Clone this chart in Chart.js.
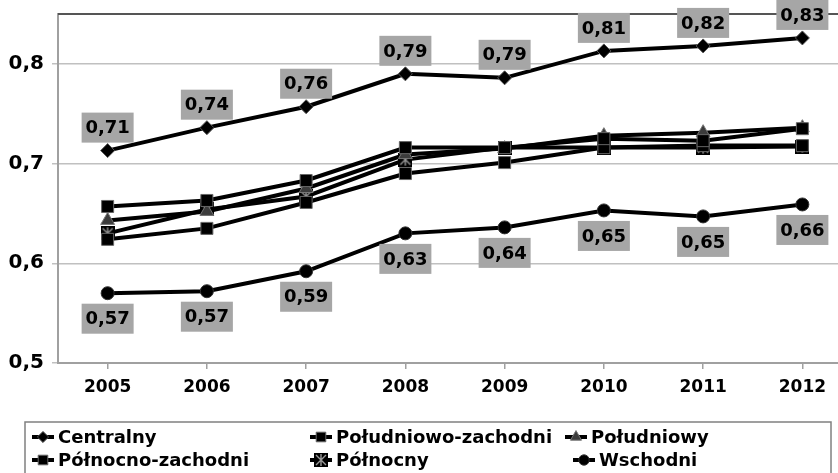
<!DOCTYPE html>
<html>
<head>
<meta charset="utf-8">
<script src="https://cdn.jsdelivr.net/npm/chart.js@4"></script>
<style>
html,body{margin:0;padding:0;background:#fff;overflow:hidden;width:838px;height:473px;}
#wrap{position:relative;width:870px;height:473px;}
</style>
</head>
<body>
<div id="wrap"><canvas id="c" width="870" height="473"></canvas></div>
<script>
const years = ['2005','2006','2007','2008','2009','2010','2011','2012'];
const seriesNames = ['Centralny','Południowo-zachodni','Południowy','Północno-zachodni','Północny','Wschodni'];
const centralny = [0.713,0.736,0.757,0.790,0.786,0.813,0.818,0.826];
const poludniowoZachodni = [0.657,0.663,0.683,0.716,0.716,0.725,0.723,0.735];
const poludniowy = [0.643,0.652,0.675,0.709,0.715,0.728,0.731,0.736];
const polnocnoZachodni = [0.624,0.635,0.661,0.690,0.701,0.716,0.718,0.718];
const polnocny = [0.630,0.654,0.667,0.704,0.716,0.716,0.716,0.717];
const wschodni = [0.570,0.572,0.592,0.630,0.636,0.653,0.647,0.659];
const yTicks = [0.5,0.6,0.7,0.8];

// asterisk marker (black square with grey star)
function makeStar(){
  const cv = document.createElement('canvas');
  cv.width = 14; cv.height = 14;
  const g = cv.getContext('2d');
  g.fillStyle = '#000'; g.fillRect(0,0,14,14);
  g.strokeStyle = '#9a9a9a'; g.lineWidth = 1.4;
  g.beginPath();
  g.moveTo(2,2); g.lineTo(12,12);
  g.moveTo(12,2); g.lineTo(2,12);
  g.moveTo(7,1); g.lineTo(7,13);
  g.stroke();
  return cv;
}
const starImg = makeStar();

const FONT = "'DejaVu Sans', 'Liberation Sans', Arial, sans-serif";

function ds(label, data, style, radius, fill, border){
  return {
    label, data,
    borderColor:'#000', borderWidth:4, tension:0,
    pointStyle: style, pointRadius: radius, pointHoverRadius: radius,
    pointBackgroundColor: fill, pointBorderColor: border, pointBorderWidth:1
  };
}

const datasets = [
  ds(seriesNames[0], centralny, 'rectRot', 7, '#000', '#555'),
  ds(seriesNames[1], poludniowoZachodni, 'rect', 8.5, '#000', '#666'),
  ds(seriesNames[2], poludniowy, 'triangle', 8, '#3c3c3c', '#777'),
  ds(seriesNames[3], polnocnoZachodni, 'rect', 8.5, '#000', '#666'),
  ds(seriesNames[4], polnocny, starImg, 7, '#000', '#666'),
  ds(seriesNames[5], wschodni, 'circle', 6.5, '#000', '#333')
];
datasets[0].labelPos = 'above';
datasets[5].labelPos = 'below';

const fmt = v => (Math.round(v*100)/100).toFixed(2).replace('.', ',');

const topBorder = {
  id:'topBorder',
  beforeDatasetsDraw(chart){
    const {ctx, chartArea:a} = chart;
    ctx.save();
    ctx.strokeStyle = '#555'; ctx.lineWidth = 2;
    ctx.beginPath(); ctx.moveTo(a.left, a.top); ctx.lineTo(a.right+20, a.top); ctx.stroke();
    ctx.restore();
  }
};

const dataLabels = {
  id:'dataLabels',
  afterDatasetsDraw(chart){
    const ctx = chart.ctx;
    ctx.save();
    chart.data.datasets.forEach((d,i)=>{
      if(!d.labelPos) return;
      const meta = chart.getDatasetMeta(i);
      meta.data.forEach((pt,j)=>{
        const cy = d.labelPos==='above' ? pt.y - 23 : pt.y + 25.5;
        const w = 52, h = 30;
        ctx.fillStyle = '#a6a6a6';
        ctx.fillRect(pt.x - w/2, cy - h/2, w, h);
        ctx.fillStyle = '#000';
        ctx.font = "bold 18px " + FONT;
        ctx.textAlign = 'center'; ctx.textBaseline = 'middle';
        ctx.fillText(fmt(d.data[j]), pt.x, cy + 1);
      });
    });
    ctx.restore();
  }
};

const legendPlugin = {
  id:'customLegend',
  afterDraw(chart){
    const ctx = chart.ctx;
    ctx.save();
    // frame
    ctx.strokeStyle = '#808080'; ctx.lineWidth = 1.5;
    ctx.strokeRect(25, 422, 806, 80);
    const slots = [
      [32,437],[310,437],[565,437],
      [32,460],[310,460],[573,460]
    ];
    chart.data.datasets.forEach((d,i)=>{
      const [x,y] = slots[i];
      ctx.strokeStyle = '#000'; ctx.lineWidth = 4;
      ctx.beginPath(); ctx.moveTo(x, y); ctx.lineTo(x+22, y); ctx.stroke();
      ctx.fillStyle = d.pointBackgroundColor; ctx.strokeStyle = d.pointBorderColor; ctx.lineWidth = 1;
      Chart.helpers.drawPoint(ctx, {pointStyle:d.pointStyle, radius:d.pointRadius*0.8, borderWidth:1, rotation:0}, x+11, y);
      ctx.fillStyle = '#000';
      ctx.font = "bold 18px " + FONT;
      ctx.textAlign = 'left'; ctx.textBaseline = 'middle';
      ctx.fillText(d.label, x+26, y+1);
    });
    ctx.restore();
  }
};

new Chart(document.getElementById('c'), {
  type:'line',
  data:{ labels: years, datasets },
  options:{
    responsive:false, animation:false,
    layout:{ padding:{ top:14, right:18, bottom:70, left:0 } },
    plugins:{ legend:{display:false}, tooltip:{enabled:false} },
    scales:{
      x:{
        offset:true,
        grid:{ drawOnChartArea:false, drawTicks:true, tickLength:6, color:'#a0a0a0', lineWidth:1.5 },
        border:{ color:'#a0a0a0', width:2 },
        ticks:{ color:'#000', font:{ family:FONT, size:17, weight:'bold' }, padding:8, maxRotation:0 },
        afterFit(s){ s.height = 40; s.paddingLeft = 0; s.paddingRight = 0; }
      },
      y:{
        min:0.5, max:0.85,
        grid:{ color:'#c0c0c0', lineWidth:1.5, tickLength:6, drawTicks:true },
        border:{ color:'#a0a0a0', width:2 },
        ticks:{ stepSize:0.1, color:'#000', padding:8,
          font:{ family:FONT, size:20, weight:'bold' },
          callback:v => v.toFixed(1).replace('.', ',') },
        afterBuildTicks(s){ s.ticks = yTicks.map(v=>({value:v})); },
        afterFit(s){ s.width = 58; s.paddingTop = 0; s.paddingBottom = 0; }
      }
    }
  },
  plugins:[topBorder, dataLabels, legendPlugin]
});
</script>
</body>
</html>
